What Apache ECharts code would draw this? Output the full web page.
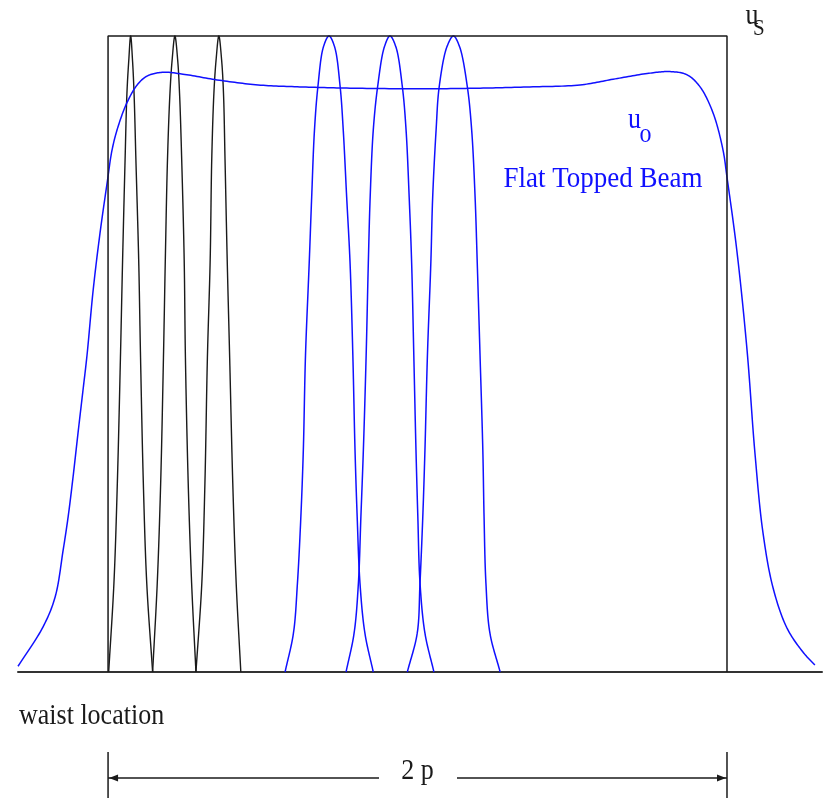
<!DOCTYPE html>
<html>
<head>
<meta charset="utf-8">
<title>Flat Topped Beam</title>
<script src="https://cdn.jsdelivr.net/npm/echarts@6/dist/echarts.min.js"></script>
<style>
  html, body { margin: 0; padding: 0; background: #ffffff; }
  #chart { width: 831px; height: 798px; }
</style>
</head>
<body>
<div id="chart"></div>
<script>
// Transverse position in units of p (aperture spans -p .. +p), amplitude normalised to 1.

// Aperture u_s: rectangular window of width 2p
const apertureX = [-1, -1, 1, 1];
const apertureY = [0, 1, 1, 0];

// Flat topped beam u_o
const beamX = [-1.291, -1.210, -1.171, -1.145, -1.129, -1.113, -1.097, -1.081, -1.068, -1.048,
  -1.026, -1.003, -0.987, -0.968, -0.939, -0.906, -0.874, -0.822, -0.758, -0.648,
  -0.515, -0.380, -0.218, 0.008, 0.202, 0.363, 0.525, 0.632, 0.742, 0.816,
  0.871, 0.913, 0.955, 0.987, 1.000, 1.032, 1.065, 1.090, 1.116, 1.149,
  1.194, 1.246, 1.284];
const beamY = [0.009, 0.071, 0.118, 0.192, 0.244, 0.307, 0.376, 0.443, 0.498, 0.601,
  0.690, 0.769, 0.821, 0.857, 0.895, 0.923, 0.937, 0.943, 0.940, 0.931,
  0.923, 0.920, 0.918, 0.917, 0.918, 0.920, 0.923, 0.932, 0.941, 0.944,
  0.939, 0.920, 0.879, 0.821, 0.778, 0.662, 0.505, 0.346, 0.220, 0.132,
  0.069, 0.031, 0.011];

// Narrow modes (black) near the aperture edge
const narrowY = [0, 0.140, 0.297, 0.494, 0.648, 0.805, 0.910, 0.962, 1, 0.962, 0.910, 0.805, 0.648, 0.494, 0.297, 0.140, 0];
const narrow1X = [-0.998, -0.981, -0.970, -0.960, -0.953, -0.945, -0.939, -0.933, -0.927, -0.921, -0.916, -0.910, -0.901, -0.895, -0.886, -0.875, -0.856];
const narrow2X = [-0.856, -0.841, -0.830, -0.821, -0.815, -0.808, -0.800, -0.793, -0.784, -0.775, -0.769, -0.762, -0.754, -0.750, -0.741, -0.730, -0.716];
const narrow3X = [-0.716, -0.697, -0.687, -0.679, -0.670, -0.665, -0.658, -0.651, -0.642, -0.633, -0.627, -0.622, -0.615, -0.607, -0.597, -0.586, -0.571];

// Wider modes (blue) near the centre
const wideY = [0, 0.061, 0.140, 0.244, 0.349, 0.498, 0.643, 0.747, 0.852, 0.920, 0.983, 1,
  0.983, 0.920, 0.852, 0.747, 0.643, 0.498, 0.349, 0.244, 0.140, 0.061, 0];
const wide1X = [-0.428, -0.401, -0.388, -0.377, -0.369, -0.362, -0.350, -0.342, -0.333, -0.322, -0.304, -0.286,
  -0.268, -0.250, -0.240, -0.229, -0.218, -0.209, -0.202, -0.195, -0.186, -0.170, -0.143];
const wide2X = [-0.231, -0.205, -0.191, -0.183, -0.175, -0.166, -0.159, -0.153, -0.143, -0.129, -0.107, -0.089,
  -0.070, -0.049, -0.037, -0.027, -0.019, -0.012, -0.005, 0.001, 0.008, 0.024, 0.053];
const wide3X = [-0.033, -0.001, 0.008, 0.017, 0.024, 0.032, 0.043, 0.049, 0.060, 0.070, 0.095, 0.116,
  0.136, 0.161, 0.175, 0.186, 0.193, 0.202, 0.211, 0.215, 0.221, 0.234, 0.267];

const BLUE = '#1010ff';
const INK = '#1a1a1a';
const SERIF = '"Liberation Serif", "DejaVu Serif", serif';

const pairs = (xs, ys) => xs.map((x, i) => [x, ys[i]]);

// Centripetal Catmull-Rom through screen points: smooth, no overshoot on steep flanks
function spline(pts, steps) {
  const n = pts.length;
  if (n < 3) return pts;
  const ext = (a, b) => [2 * a[0] - b[0], 2 * a[1] - b[1]];
  const P = [ext(pts[0], pts[1])].concat(pts, [ext(pts[n - 1], pts[n - 2])]);
  const knot = (a, b) => Math.max(Math.sqrt(Math.hypot(b[0] - a[0], b[1] - a[1])), 1e-4);
  const lerp = (a, b, ta, tb, t) => {
    const w = (t - ta) / (tb - ta);
    return [a[0] + (b[0] - a[0]) * w, a[1] + (b[1] - a[1]) * w];
  };
  const out = [pts[0]];
  for (let i = 1; i < P.length - 2; i++) {
    const p0 = P[i - 1], p1 = P[i], p2 = P[i + 1], p3 = P[i + 2];
    const t0 = 0, t1 = t0 + knot(p0, p1), t2 = t1 + knot(p1, p2), t3 = t2 + knot(p2, p3);
    for (let j = 1; j <= steps; j++) {
      const t = t1 + (t2 - t1) * j / steps;
      const a1 = lerp(p0, p1, t0, t1, t), a2 = lerp(p1, p2, t1, t2, t), a3 = lerp(p2, p3, t2, t3, t);
      const b1 = lerp(a1, a2, t0, t2, t), b2 = lerp(a2, a3, t1, t3, t);
      out.push(lerp(b1, b2, t1, t2, t));
    }
  }
  return out;
}

function curve(name, xs, ys, color, width) {
  return {
    name, type: 'custom', data: pairs(xs, ys), clip: false, silent: true,
    encode: { x: 0, y: 1 },
    renderItem(params, api) {
      if (params.dataIndex !== 0) return null;
      const pts = xs.map((x, i) => api.coord([x, ys[i]]));
      return {
        type: 'polyline',
        shape: { points: spline(pts, 16) },
        style: { stroke: color, lineWidth: width, fill: null, lineJoin: 'round' }
      };
    }
  };
}

const chart = echarts.init(document.getElementById('chart'), null, { renderer: 'canvas' });

chart.setOption({
  animation: false,
  backgroundColor: '#ffffff',
  grid: { left: 18, right: 9, top: 36, bottom: 126 },
  xAxis: {
    type: 'value', min: -1.291, max: 1.307,
    axisLine: { show: true, onZero: false, lineStyle: { color: '#333333', width: 2 } },
    axisTick: { show: false }, axisLabel: { show: false }, splitLine: { show: false }
  },
  yAxis: {
    type: 'value', min: 0, max: 1, show: false,
    splitLine: { show: false }
  },
  series: [
    {
      name: 'aperture', type: 'line', data: pairs(apertureX, apertureY),
      symbol: 'none', clip: false, silent: true,
      lineStyle: { color: INK, width: 1.5 }
    },
    curve('narrow1', narrow1X, narrowY, INK, 1.4),
    curve('narrow2', narrow2X, narrowY, INK, 1.4),
    curve('narrow3', narrow3X, narrowY, INK, 1.4),
    curve('wide1', wide1X, wideY, BLUE, 1.5),
    curve('wide2', wide2X, wideY, BLUE, 1.5),
    curve('wide3', wide3X, wideY, BLUE, 1.5),
    curve('beam', beamX, beamY, BLUE, 1.5)
  ]
});

// Labels and the 2p dimension line underneath the axis
const left = chart.convertToPixel({ gridIndex: 0 }, [-1, 0]);
const right = chart.convertToPixel({ gridIndex: 0 }, [1, 0]);
const mid = chart.convertToPixel({ gridIndex: 0 }, [0, 0]);
const dimY = 778;

function label(text, x, y, size, color, align) {
  return {
    type: 'text', x, y, scaleY: 1.12, silent: true,
    style: { text, font: size + 'px ' + SERIF, fill: color, align: align || 'left', verticalAlign: 'middle' }
  };
}
function seg(x1, y1, x2, y2) {
  return { type: 'line', silent: true, shape: { x1, y1, x2, y2 }, style: { stroke: INK, lineWidth: 1.5 } };
}
function arrow(tipX, dir) {
  return {
    type: 'polygon', silent: true,
    shape: { points: [[tipX, dimY], [tipX + dir * 9, dimY - 3.5], [tipX + dir * 9, dimY + 3.5]] },
    style: { fill: INK }
  };
}

chart.setOption({
  graphic: [
    label('u', 745.5, 16.5, 26, INK),
    label('S', 753, 29, 21, INK),
    label('u', 628, 120, 26, BLUE),
    label('o', 639.5, 135, 24, BLUE),
    label('Flat Topped Beam', 603, 179, 27, BLUE, 'center'),
    label('waist location', 19, 716, 26, INK),
    seg(left[0], 752, left[0], 798),
    seg(right[0], 752, right[0], 798),
    seg(left[0], dimY, 379, dimY),
    seg(457, dimY, right[0], dimY),
    arrow(left[0] + 1, 1),
    arrow(right[0] - 1, -1),
    label('2 p', mid[0], 771, 26, INK, 'center')
  ]
});
</script>
</body>
</html>
